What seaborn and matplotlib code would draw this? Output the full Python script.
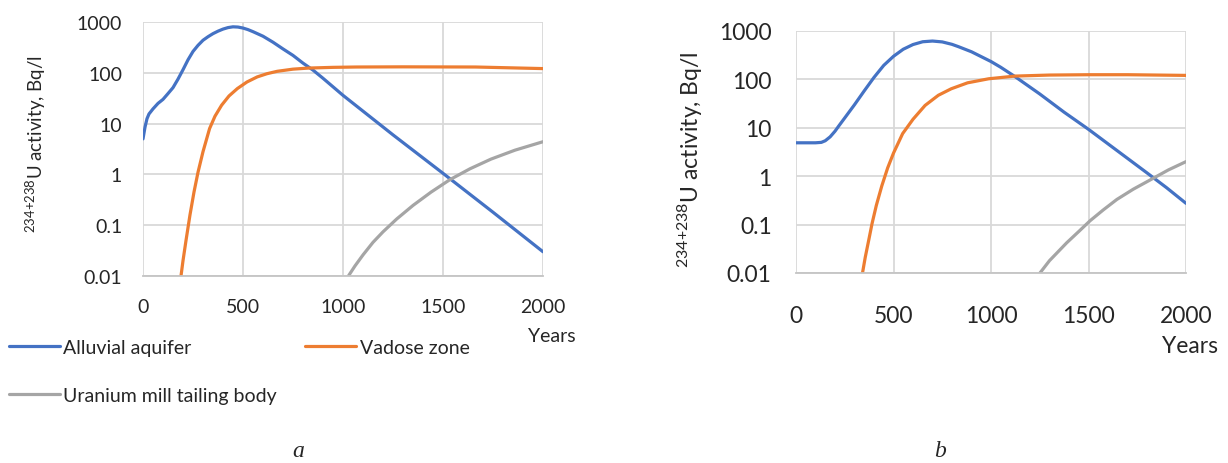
import matplotlib
matplotlib.use("Agg")
import matplotlib.pyplot as plt
import matplotlib.ticker as mticker
import seaborn as sns

# ------------------------------------------------------------------
# Data (years, activity in Bq/l)
# ------------------------------------------------------------------
# panel a
a_alluvial_years = [0, 10, 20, 30, 50, 75, 100, 125, 150, 175, 200, 225, 250, 275, 300,
                    325, 350, 375, 400, 425, 450, 475, 500, 525, 550, 600, 650, 700,
                    750, 800, 850, 900, 950, 1000, 1250, 1500, 1750, 2000]
a_alluvial_vals = [5.0, 8.5, 12.5, 15.5, 19.5, 25, 30, 39, 51, 75, 115, 180, 263, 347, 437,
                   513, 590, 660, 725, 776, 804, 795, 760, 708, 645, 525, 400, 295,
                   220, 155, 113, 78, 53, 36, 6.0, 1.05, 0.18, 0.03]

a_vadose_years = [190, 200, 215, 235, 255, 275, 300, 333, 360, 393, 430, 472, 520, 571,
                  620, 671, 750, 829, 950, 1067, 1300, 1663, 2000]
a_vadose_vals = [0.01, 0.02, 0.05, 0.16, 0.45, 1.1, 2.8, 8, 14, 23, 35, 49, 66, 83,
                 96, 107, 118, 124, 128, 130, 131, 130, 121]

a_tailing_years = [1027, 1060, 1100, 1150, 1200, 1268, 1350, 1440, 1535, 1635, 1740,
                   1860, 2000]
a_tailing_vals = [0.01, 0.0158, 0.026, 0.046, 0.074, 0.132, 0.245, 0.447, 0.79, 1.29,
                  2.0, 3.0, 4.4]

# panel b
b_alluvial_years = [0, 50, 100, 130, 150, 175, 200, 220, 250, 300, 350, 400, 450, 500,
                    550, 600, 650, 700, 750, 800, 834, 900, 950, 1000, 1050, 1122, 1250,
                    1375, 1500, 1650, 1800, 1900, 2000]
b_alluvial_vals = [4.9, 4.9, 4.9, 5.0, 5.4, 6.5, 8.5, 11, 16, 30, 58, 110, 195, 300,
                   420, 525, 600, 620, 595, 530, 473, 372, 295, 234, 178, 115, 50,
                   21, 9.3, 3.3, 1.17, 0.58, 0.275]

b_vadose_years = [341, 355, 374, 390, 412, 440, 470, 500, 547, 600, 662, 730, 796, 880,
                  988, 1122, 1300, 1505, 1700, 2000]
b_vadose_vals = [0.01, 0.021, 0.05, 0.105, 0.25, 0.63, 1.48, 3.0, 7.6, 15, 29, 47, 64, 85,
                 103, 117, 123, 125, 125, 121]

b_tailing_years = [1251, 1300, 1388, 1450, 1508, 1575, 1645, 1730, 1824, 1910, 2000]
b_tailing_vals = [0.01, 0.018, 0.042, 0.072, 0.12, 0.2, 0.33, 0.54, 0.87, 1.35, 2.0]

series_names = ["Alluvial aquifer", "Vadose zone", "Uranium mill tailing body"]
series_colors = ["#4472C4", "#ED7D31", "#A5A5A5"]

x_ticks = [0, 500, 1000, 1500, 2000]
y_ticks = [0.01, 0.1, 1, 10, 100, 1000]
y_tick_labels = ["0.01", "0.1", "1", "10", "100", "1000"]

# ------------------------------------------------------------------
# Figure
# ------------------------------------------------------------------
sns.set_theme(style="white")
plt.rcParams["font.family"] = ["Lato", "DejaVu Sans"]
plt.rcParams["mathtext.fontset"] = "custom"
plt.rcParams["mathtext.rm"] = "Lato"

W, H = 1228, 464
fig = plt.figure(figsize=(W / 100, H / 100), dpi=100)

ax_a = fig.add_axes([143 / W, 1 - 277 / H, 400 / W, 254 / H])
ax_b = fig.add_axes([796 / W, 1 - 274 / H, 390 / W, 242 / H])

# (axes, series, tick font size, x tick pad, y-label size, y-label x, y-label y)
panels = [
    (ax_a, [(a_alluvial_years, a_alluvial_vals), (a_vadose_years, a_vadose_vals),
            (a_tailing_years, a_tailing_vals)], 14, 16, 13.5, -0.2675, 0.524),
    (ax_b, [(b_alluvial_years, b_alluvial_vals), (b_vadose_years, b_vadose_vals),
            (b_tailing_years, b_tailing_vals)], 16.5, 23, 16.5, -0.272, 0.471),
]

ylabel = r"$^{\mathregular{234{+}238}}$U activity, Bq/l"

handles = []
for ax, data, fs, xpad, lab_fs, lab_x, lab_y in panels:
    for (xs, ys), name, col in zip(data, series_names, series_colors):
        sns.lineplot(x=xs, y=ys, color=col, linewidth=2.3, label=name, ax=ax,
                     estimator=None, sort=False)
    ax.set_yscale("log")
    ax.set_xlim(0, 2000)
    ax.set_ylim(0.01, 1000)
    ax.set_xticks(x_ticks)
    ax.set_yticks(y_ticks)
    ax.set_yticklabels(y_tick_labels)
    ax.yaxis.set_minor_locator(mticker.NullLocator())
    ax.tick_params(length=0, labelsize=fs, colors="#262626")
    ax.tick_params(axis="x", pad=xpad)
    ax.tick_params(axis="y", pad=fs + 1)
    ax.grid(True, color="#d9d9d9", linewidth=1.3)
    ax.set_axisbelow(True)
    for side in ["top", "right", "left"]:
        ax.spines[side].set_visible(False)
    ax.spines["bottom"].set_color("#c4c4c4")
    ax.spines["bottom"].set_linewidth(1.3)
    ax.set_xlabel("")
    ax.set_ylabel(ylabel, fontsize=lab_fs, color="#262626")
    ax.yaxis.label.set_va("center")
    ax.yaxis.set_label_coords(lab_x, lab_y)
    if not handles:
        handles = ax.get_legend_handles_labels()[0]
    ax.get_legend().remove()

# "Years" labels
fig.text(552 / W, 1 - 337 / H, "Years", fontsize=14, ha="center", va="center", color="#262626")
fig.text(1190 / W, 1 - 347 / H, "Years", fontsize=16.5, ha="center", va="center", color="#262626")

# legend under panel a (row 1: aquifer, vadose; row 2: tailing body)
order = [0, 2, 1]
fig.legend([handles[i] for i in order], [series_names[i] for i in order],
           loc="upper left", bbox_to_anchor=(9 / W, 1 - 340 / H), ncol=2,
           frameon=False, fontsize=14, handlelength=2.6, handletextpad=0.2,
           columnspacing=1.45, labelspacing=1.6, borderpad=0, borderaxespad=0,
           labelcolor="#262626")

# panel captions
fig.text(298 / W, 1 - 452 / H, "a", fontsize=17, style="italic", ha="center", va="center",
         family=["Liberation Serif", "DejaVu Serif"])
fig.text(940 / W, 1 - 452 / H, "b", fontsize=17, style="italic", ha="center", va="center",
         family=["Liberation Serif", "DejaVu Serif"])

fig.savefig("out.png", dpi=100)
